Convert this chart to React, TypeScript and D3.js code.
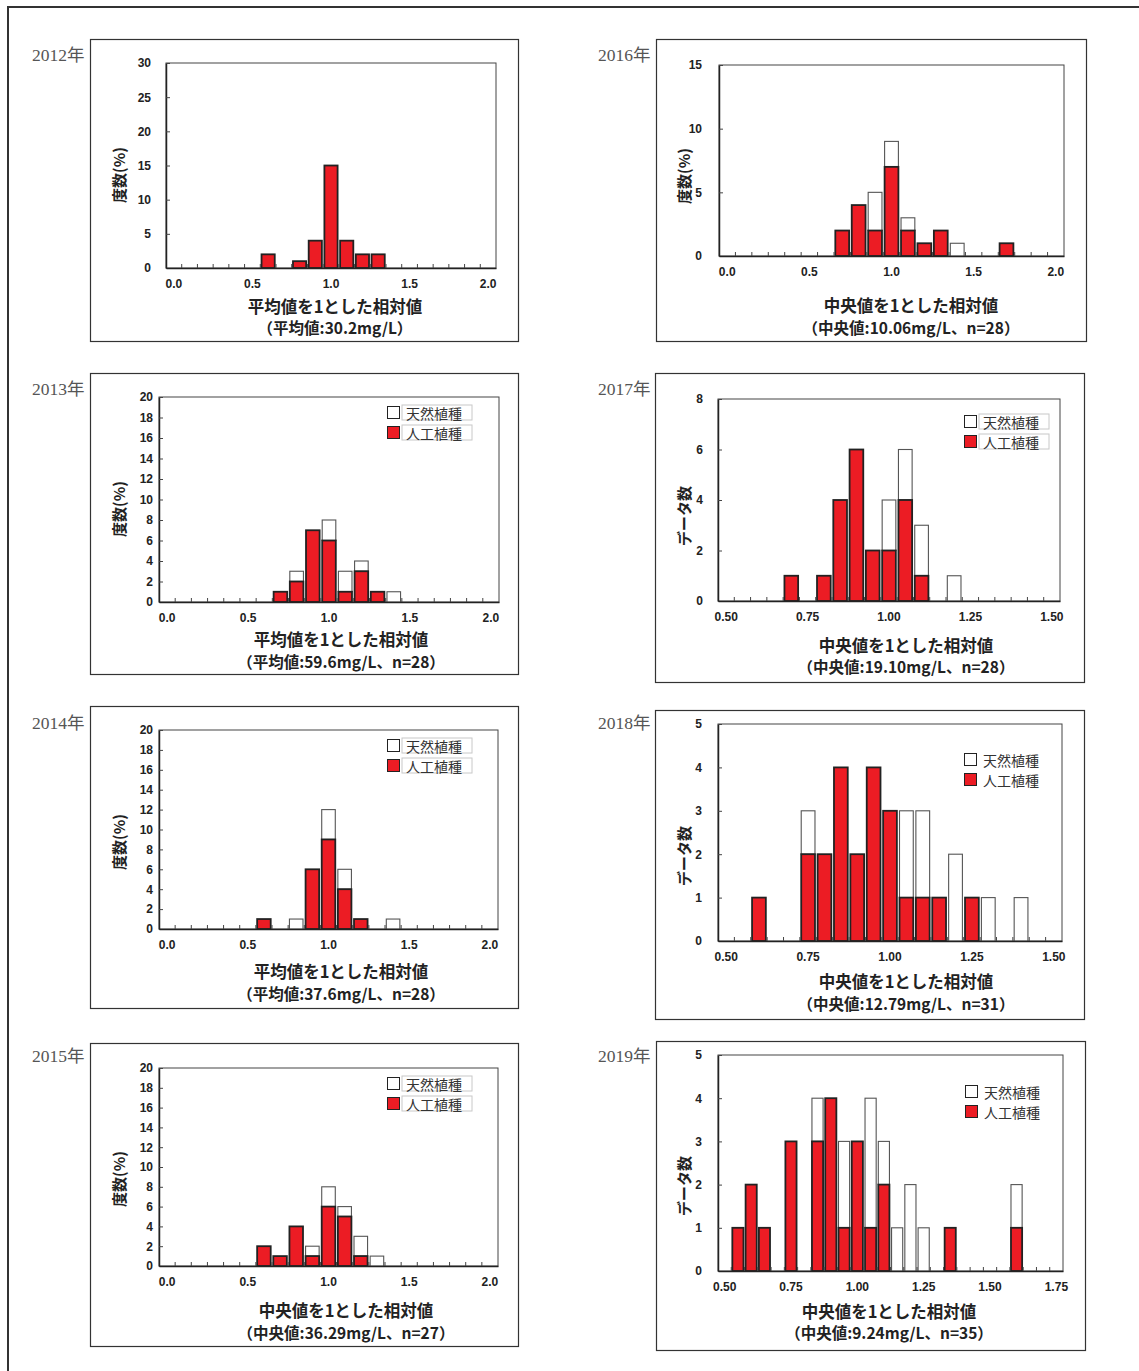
import React, { useEffect, useRef } from 'react';
import * as d3 from 'd3';

// categories (bin centres)
const catsA = ['0.0', '0.1', '0.2', '0.3', '0.4', '0.5', '0.6', '0.7', '0.8', '0.9', '1.0', '1.1', '1.2', '1.3', '1.4', '1.5', '1.6', '1.7', '1.8', '1.9', '2.0'];
const catsB = ['0.50', '0.55', '0.60', '0.65', '0.70', '0.75', '0.80', '0.85', '0.90', '0.95', '1.00', '1.05', '1.10', '1.15', '1.20', '1.25', '1.30', '1.35', '1.40', '1.45', '1.50'];
const catsC = ['0.50', '0.55', '0.60', '0.65', '0.70', '0.75', '0.80', '0.85', '0.90', '0.95', '1.00', '1.05', '1.10', '1.15', '1.20', '1.25', '1.30', '1.35', '1.40', '1.45', '1.50', '1.55', '1.60', '1.65', '1.70', '1.75'];

const labelsA = ['0.0', '0.5', '1.0', '1.5', '2.0'];
const labelsB = ['0.50', '0.75', '1.00', '1.25', '1.50'];
const labelsC = ['0.50', '0.75', '1.00', '1.25', '1.50', '1.75'];

const ticks30 = [0, 5, 10, 15, 20, 25, 30];
const ticks20 = [0, 2, 4, 6, 8, 10, 12, 14, 16, 18, 20];
const ticks15 = [0, 5, 10, 15];
const ticks8 = [0, 2, 4, 6, 8];
const ticks5 = [0, 1, 2, 3, 4, 5];

const legendLabels = ['天然植種', '人工植種'];

// 人工植種 (red) and 天然植種 (white) per category
const red2012 = [0, 0, 0, 0, 0, 0, 2, 0, 1, 4, 15, 4, 2, 2, 0, 0, 0, 0, 0, 0, 0];
const nat2012 = [0, 0, 0, 0, 0, 0, 0, 0, 0, 0, 0, 0, 0, 0, 0, 0, 0, 0, 0, 0, 0];
const red2013 = [0, 0, 0, 0, 0, 0, 0, 1, 2, 7, 6, 1, 3, 1, 0, 0, 0, 0, 0, 0, 0];
const nat2013 = [0, 0, 0, 0, 0, 0, 0, 0, 1, 0, 2, 2, 1, 0, 1, 0, 0, 0, 0, 0, 0];
const red2014 = [0, 0, 0, 0, 0, 0, 1, 0, 0, 6, 9, 4, 1, 0, 0, 0, 0, 0, 0, 0, 0];
const nat2014 = [0, 0, 0, 0, 0, 0, 0, 0, 1, 0, 3, 2, 0, 0, 1, 0, 0, 0, 0, 0, 0];
const red2015 = [0, 0, 0, 0, 0, 0, 2, 1, 4, 1, 6, 5, 1, 0, 0, 0, 0, 0, 0, 0, 0];
const nat2015 = [0, 0, 0, 0, 0, 0, 0, 0, 0, 1, 2, 1, 2, 1, 0, 0, 0, 0, 0, 0, 0];
const red2016 = [0, 0, 0, 0, 0, 0, 0, 2, 4, 2, 7, 2, 1, 2, 0, 0, 0, 1, 0, 0, 0];
const nat2016 = [0, 0, 0, 0, 0, 0, 0, 0, 0, 3, 2, 1, 0, 0, 1, 0, 0, 0, 0, 0, 0];
const red2017 = [0, 0, 0, 0, 1, 0, 1, 4, 6, 2, 2, 4, 1, 0, 0, 0, 0, 0, 0, 0, 0];
const nat2017 = [0, 0, 0, 0, 0, 0, 0, 0, 0, 0, 2, 2, 2, 0, 1, 0, 0, 0, 0, 0, 0];
const red2018 = [0, 0, 1, 0, 0, 2, 2, 4, 2, 4, 3, 1, 1, 1, 0, 1, 0, 0, 0, 0, 0];
const nat2018 = [0, 0, 0, 0, 0, 1, 0, 0, 0, 0, 0, 2, 2, 0, 2, 0, 1, 0, 1, 0, 0];
const red2019 = [0, 1, 2, 1, 0, 3, 0, 3, 4, 1, 3, 1, 2, 0, 0, 0, 0, 1, 0, 0, 0, 0, 1, 0, 0, 0];
const nat2019 = [0, 0, 0, 0, 0, 0, 0, 1, 0, 2, 0, 3, 1, 1, 2, 1, 0, 0, 0, 0, 0, 0, 1, 0, 0, 0];

const T_MEAN = '平均値を1とした相対値';
const T_MED = '中央値を1とした相対値';

const panels = [
  { year: '2012年', cats: catsA, labels: labelsA, red: red2012, nat: nat2012, yTicks: ticks30, yTitle: '度数(%)', t1: T_MEAN, t2: '（平均値:30.2mg/L）',
    box: [90, 39, 518, 341], plot: [166, 63, 496, 268], yearXY: [32, 61], yTitleXY: [118, 175], titleX: 335, titleY: [306, 327], gap: 15, legend: null },
  { year: '2013年', cats: catsA, labels: labelsA, red: red2013, nat: nat2013, yTicks: ticks20, yTitle: '度数(%)', t1: T_MEAN, t2: '（平均値:59.6mg/L、n=28）',
    box: [90, 373, 518, 674], plot: [159, 397, 499, 602], yearXY: [32, 395], yTitleXY: [118, 509], titleX: 341, titleY: [639, 661], gap: 6, legend: { x: 387, y: 406, frame: true } },
  { year: '2014年', cats: catsA, labels: labelsA, red: red2014, nat: nat2014, yTicks: ticks20, yTitle: '度数(%)', t1: T_MEAN, t2: '（平均値:37.6mg/L、n=28）',
    box: [90, 706, 518, 1008], plot: [159, 730, 498, 929], yearXY: [32, 729], yTitleXY: [118, 842], titleX: 341, titleY: [971, 993], gap: 6, legend: { x: 387, y: 739, frame: true } },
  { year: '2015年', cats: catsA, labels: labelsA, red: red2015, nat: nat2015, yTicks: ticks20, yTitle: '度数(%)', t1: T_MED, t2: '（中央値:36.29mg/L、n=27）',
    box: [90, 1043, 518, 1346], plot: [159, 1068, 498, 1266], yearXY: [32, 1062], yTitleXY: [118, 1179], titleX: 346, titleY: [1310, 1332], gap: 6, legend: { x: 387, y: 1077, frame: true } },
  { year: '2016年', cats: catsA, labels: labelsA, red: red2016, nat: nat2016, yTicks: ticks15, yTitle: '度数(%)', t1: T_MED, t2: '（中央値:10.06mg/L、n=28）',
    box: [656, 39, 1086, 341], plot: [719, 65, 1064, 256], yearXY: [598, 61], yTitleXY: [683, 176], titleX: 911, titleY: [305, 327], gap: 17, legend: null },
  { year: '2017年', cats: catsB, labels: labelsB, red: red2017, nat: nat2017, yTicks: ticks8, yTitle: 'データ数', t1: T_MED, t2: '（中央値:19.10mg/L、n=28）',
    box: [655, 373, 1084, 682], plot: [718, 399, 1060, 601], yearXY: [598, 395], yTitleXY: [683, 516], titleX: 906, titleY: [645, 666], gap: 15, legend: { x: 964, y: 415, frame: true } },
  { year: '2018年', cats: catsB, labels: labelsB, red: red2018, nat: nat2018, yTicks: ticks5, yTitle: 'データ数', t1: T_MED, t2: '（中央値:12.79mg/L、n=31）',
    box: [655, 710, 1084, 1019], plot: [718, 724, 1062, 941], yearXY: [598, 729], yTitleXY: [683, 856], titleX: 906, titleY: [981, 1003], gap: 16, legend: { x: 964, y: 753, frame: false } },
  { year: '2019年', cats: catsC, labels: labelsC, red: red2019, nat: nat2019, yTicks: ticks5, yTitle: 'データ数', t1: T_MED, t2: '（中央値:9.24mg/L、n=35）',
    box: [656, 1041, 1085, 1350], plot: [718, 1055, 1063, 1271], yearXY: [598, 1062], yTitleXY: [683, 1186], titleX: 889, titleY: [1311, 1332], gap: 16, legend: { x: 965, y: 1085, frame: false } },
];

const RED = '#ec1c24';
const SANS = "'Liberation Sans', Arial, 'Noto Sans CJK JP', sans-serif";
const CJK = "'Noto Sans CJK JP', 'Liberation Sans', sans-serif";
const SERIF = "'Liberation Serif', 'Noto Sans CJK JP', serif";

export default function App() {
  const ref = useRef<SVGSVGElement>(null);

  useEffect(() => {
    const svg = d3.select(ref.current);
    svg.selectAll('*').remove();

    svg.append('rect').attr('width', 1139).attr('height', 1371).attr('fill', '#fff');
    // outer frame
    svg.append('rect').attr('x', 8).attr('y', 7).attr('width', 1160).attr('height', 1400)
      .attr('fill', 'none').attr('stroke', '#333').attr('stroke-width', 2);

    panels.forEach(p => {
      const [bx0, by0, bx1, by1] = p.box;
      const [px0, py0, px1, py1] = p.plot;
      const g = svg.append('g');

      g.append('rect').attr('x', bx0 + 0.5).attr('y', by0 + 0.5).attr('width', bx1 - bx0).attr('height', by1 - by0)
        .attr('fill', '#fff').attr('stroke', '#333').attr('stroke-width', 1.2);

      g.append('text').attr('x', p.yearXY[0]).attr('y', p.yearXY[1])
        .attr('font-family', SERIF).attr('font-size', 17.5).attr('fill', '#555').text(p.year);

      const x = d3.scaleBand<string>().domain(p.cats).range([px0, px1]).paddingInner(0).paddingOuter(0);
      const yMax = p.yTicks[p.yTicks.length - 1];
      const y = d3.scaleLinear().domain([0, yMax]).range([py1, py0]);

      g.append('rect').attr('x', px0).attr('y', py0).attr('width', px1 - px0).attr('height', py1 - py0)
        .attr('fill', '#fff').attr('stroke', '#444').attr('stroke-width', 1);

      // bars
      const rows = p.cats.map((c, i) => ({ cat: c, red: p.red[i], nat: p.nat[i] }));
      const series = d3.stack<any>().keys(['nat', 'red']).order(d3.stackOrderReverse)(rows);
      const bw = x.bandwidth() * 0.84;
      const off = (x.bandwidth() - bw) / 2;
      const sNat = series.find(s => s.key === 'nat')!;
      const sRed = series.find(s => s.key === 'red')!;

      g.append('g').selectAll('rect').data(sNat.filter(d => d[1] > d[0])).join('rect')
        .attr('x', d => (x(d.data.cat) as number) + off)
        .attr('y', d => y(d[1]))
        .attr('width', bw)
        .attr('height', d => y(d[0]) - y(d[1]))
        .attr('fill', '#fff').attr('stroke', '#555').attr('stroke-width', 1.1);

      g.append('g').selectAll('rect').data(sRed.filter(d => d[1] > d[0])).join('rect')
        .attr('x', d => (x(d.data.cat) as number) + off)
        .attr('y', d => y(d[1]))
        .attr('width', bw)
        .attr('height', d => y(d[0]) - y(d[1]))
        .attr('fill', RED).attr('stroke', '#222').attr('stroke-width', 1.8);

      // y axis
      const ya = g.append('g').attr('transform', `translate(${px0},0)`)
        .call(d3.axisLeft(y).tickValues(p.yTicks).tickSizeInner(-4).tickSizeOuter(0).tickPadding(p.gap).tickFormat(d3.format('d')));
      ya.select('.domain').attr('stroke', '#222').attr('stroke-width', 1.5);
      ya.selectAll('.tick line').attr('stroke', '#444');
      ya.selectAll('.tick text').attr('font-family', SANS).attr('font-size', 12).attr('font-weight', 'bold').attr('fill', '#222');

      // x axis: labels at category centres, ticks at category boundaries
      const xa = g.append('g').attr('transform', `translate(0,${py1})`)
        .call(d3.axisBottom(x).tickValues(p.labels).tickSize(0).tickPadding(11));
      xa.select('.domain').attr('stroke', '#222').attr('stroke-width', 1.5);
      xa.selectAll('.tick text').attr('font-family', SANS).attr('font-size', 12).attr('font-weight', 'bold').attr('fill', '#222');
      g.append('g').selectAll('line').data(p.cats.slice(1)).join('line')
        .attr('x1', d => x(d) as number).attr('x2', d => x(d) as number)
        .attr('y1', py1).attr('y2', py1 - 4)
        .attr('stroke', '#444').attr('stroke-width', 1);

      // y title
      g.append('text').attr('transform', `translate(${p.yTitleXY[0]},${p.yTitleXY[1]}) rotate(-90)`)
        .attr('text-anchor', 'middle').attr('dominant-baseline', 'central')
        .attr('font-family', CJK).attr('font-size', 15).attr('font-weight', 'bold').attr('fill', '#222')
        .text(p.yTitle);

      // x titles
      g.append('text').attr('x', p.titleX).attr('y', p.titleY[0]).attr('text-anchor', 'middle').attr('dominant-baseline', 'central')
        .attr('font-family', CJK).attr('font-size', 16.5).attr('font-weight', 'bold').attr('fill', '#222').text(p.t1);
      g.append('text').attr('x', p.titleX).attr('y', p.titleY[1]).attr('text-anchor', 'middle').attr('dominant-baseline', 'central')
        .attr('font-family', CJK).attr('font-size', 15.5).attr('font-weight', 'bold').attr('fill', '#222').text(p.t2);

      // legend
      if (p.legend) {
        const lg = g.append('g').attr('transform', `translate(${p.legend.x},${p.legend.y})`);
        legendLabels.forEach((lab, i) => {
          const yy = i * 20;
          if (p.legend!.frame) {
            lg.append('rect').attr('x', 15).attr('y', yy - 1).attr('width', 70).attr('height', 15)
              .attr('fill', '#fff').attr('stroke', '#c8c8c8').attr('stroke-width', 1);
          }
          lg.append('rect').attr('x', 0.5).attr('y', yy + 0.5).attr('width', 12).attr('height', 12)
            .attr('fill', i === 0 ? '#fff' : RED).attr('stroke', '#222').attr('stroke-width', 1);
          lg.append('text').attr('x', 19).attr('y', yy + 6.5).attr('dominant-baseline', 'central')
            .attr('font-family', CJK).attr('font-size', 14).attr('fill', '#333').text(lab);
        });
      }
    });
  }, []);

  return (
    <svg ref={ref} width={1139} height={1371} style={{ position: 'absolute', left: 0, top: 0, display: 'block' }} />
  );
}
